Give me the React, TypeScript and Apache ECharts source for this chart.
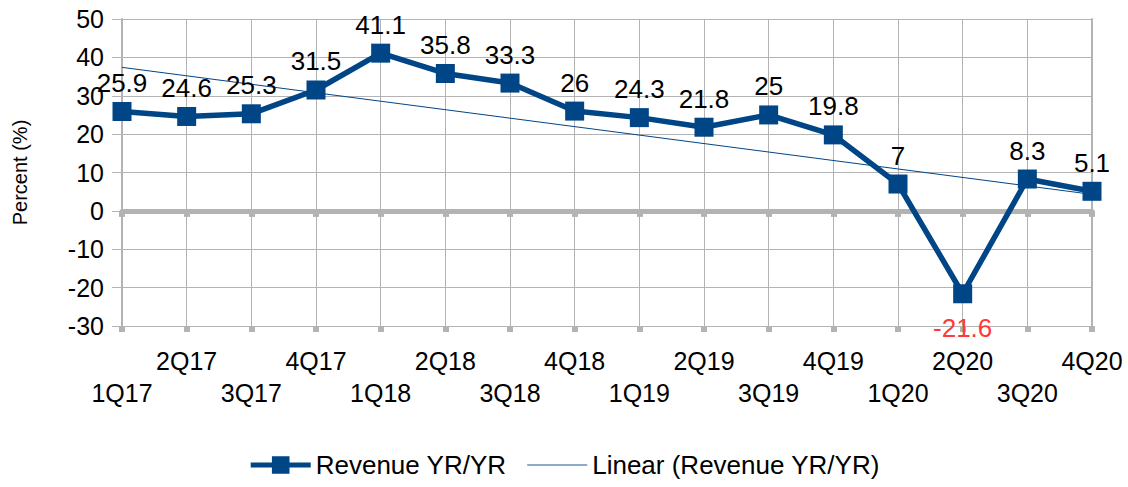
import React, { useEffect, useRef } from "react";
import * as echarts from "echarts";

const categories = ["1Q17","2Q17","3Q17","4Q17","1Q18","2Q18","3Q18","4Q18","1Q19","2Q19","3Q19","4Q19","1Q20","2Q20","3Q20","4Q20"];
const revenueYoY = [25.9,24.6,25.3,31.5,41.1,35.8,33.3,26,24.3,21.8,25,19.8,7,-21.6,8.3,5.1];
const trendStart = 37.4;
const trendEnd = 4.3;

const BLUE = "#004586";
const GRID = "#b3b3b3";
const FONT = "'Liberation Sans', Arial, sans-serif";

export default function App() {
  const ref = useRef<HTMLDivElement>(null);
  useEffect(() => {
    if (!ref.current) return;
    const chart = echarts.init(ref.current, undefined, { renderer: "svg" });
    const trendData = categories.map((_, i) =>
      i === 0 ? trendStart : i === categories.length - 1 ? trendEnd : null
    );
    const seriesData = revenueYoY.map((v) =>
      v < 0
        ? { value: v, label: { position: "bottom", color: "#ff3838", distance: 12 } }
        : v
    );
    chart.setOption({
      animation: false,
      textStyle: { fontFamily: FONT },
      grid: { left: 122, right: 36, top: 19, bottom: 161, containLabel: false },
      legend: {
        bottom: 4,
        left: "center",
        itemWidth: 60,
        itemHeight: 22,
        itemGap: 20,
        textStyle: { fontSize: 26, color: "#000", fontFamily: FONT },
        data: [
          { name: "Revenue YR/YR", lineStyle: { width: 5, color: BLUE }, itemStyle: { color: BLUE } },
          { name: "Linear (Revenue YR/YR)", lineStyle: { width: 1.5, color: BLUE, opacity: 0.6 }, itemStyle: { opacity: 0 } },
        ],
      },
      xAxis: [
        {
          type: "category",
          data: categories,
          boundaryGap: false,
          axisLine: { onZero: true, lineStyle: { color: GRID, width: 5 } },
          axisTick: { show: true, length: 6, lineStyle: { color: GRID, width: 6 } },
          axisLabel: { show: false },
          splitLine: { show: true, lineStyle: { color: GRID, width: 1 } },
          z: 1,
        },
        {
          type: "category",
          data: categories,
          boundaryGap: false,
          position: "bottom",
          axisLine: { show: false, onZero: false },
          axisTick: { show: true, length: 6, lineStyle: { color: GRID, width: 6 } },
          axisLabel: {
            show: true,
            interval: 0,
            margin: 19,
            fontSize: 25,
            lineHeight: 32,
            color: "#000",
            fontFamily: FONT,
            formatter: (v: string, i: number) => (i % 2 === 0 ? "\n" + v : v + "\n"),
          },
          splitLine: { show: false },
        },
      ],
      yAxis: [
        {
          type: "value",
          min: -30,
          max: 50,
          interval: 10,
          name: "Percent (%)",
          nameLocation: "middle",
          nameGap: 92,
          nameRotate: 90,
          nameTextStyle: { fontSize: 20, color: "#000", fontFamily: FONT },
          axisLine: { show: true, lineStyle: { color: GRID, width: 2 } },
          axisTick: { show: true, length: 10, lineStyle: { color: GRID, width: 1 } },
          axisLabel: { fontSize: 25, color: "#000", margin: 18, fontFamily: FONT },
          splitLine: { show: true, lineStyle: { color: GRID, width: 1 } },
        },
        {
          type: "value",
          min: -30,
          max: 50,
          interval: 10,
          position: "right",
          axisLine: { show: true, lineStyle: { color: GRID, width: 2 } },
          axisTick: { show: false },
          axisLabel: { show: false },
          splitLine: { show: false },
        },
      ],
      series: [
        {
          name: "Revenue YR/YR",
          type: "line",
          xAxisIndex: 0,
          yAxisIndex: 0,
          data: seriesData,
          symbol: "rect",
          symbolSize: 19,
          itemStyle: { color: BLUE },
          lineStyle: { color: BLUE, width: 5.5 },
          label: {
            show: true,
            position: "top",
            distance: 6,
            fontSize: 26,
            color: "#000",
            fontFamily: FONT,
          },
          z: 5,
        },
        {
          name: "Linear (Revenue YR/YR)",
          type: "line",
          xAxisIndex: 0,
          yAxisIndex: 0,
          data: trendData,
          connectNulls: true,
          symbol: "none",
          showSymbol: false,
          itemStyle: { color: BLUE },
          lineStyle: { color: BLUE, width: 1 },
          z: 4,
        },
      ],
    });
    return () => chart.dispose();
  }, []);
  return <div ref={ref} style={{ width: 1128, height: 487, position: "absolute", left: 0, top: 0 }} />;
}
